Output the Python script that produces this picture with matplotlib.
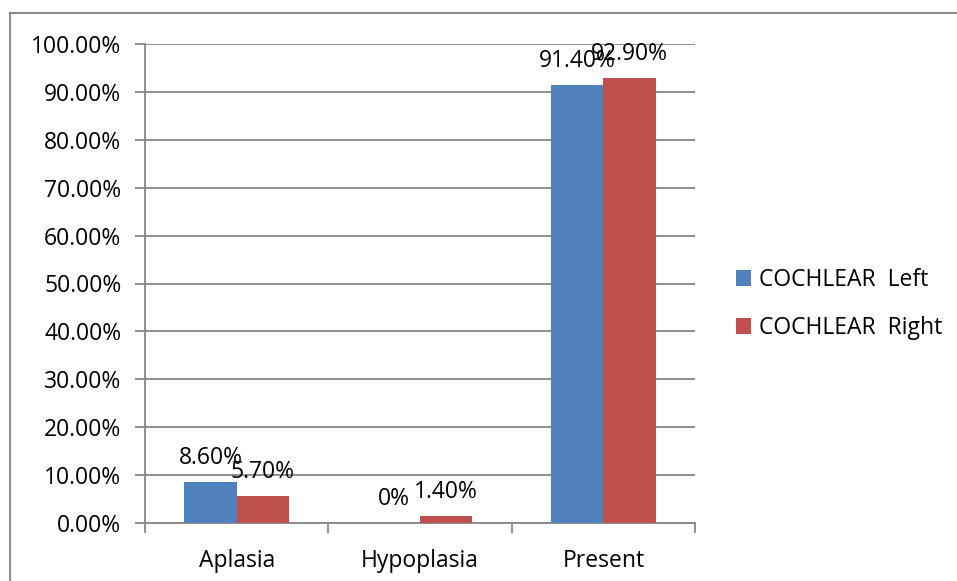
import matplotlib
matplotlib.use("Agg")
import matplotlib.pyplot as plt
from matplotlib.lines import Line2D
from matplotlib.patches import Patch
import numpy as np

categories = ["Aplasia", "Hypoplasia", "Present"]
left_values = [8.6, 0.0, 91.4]
right_values = [5.7, 1.4, 92.9]
left_labels = ["8.60%", "0%", "91.40%"]
right_labels = ["5.70%", "1.40%", "92.90%"]
series_names = ["COCHLEAR  Left", "COCHLEAR  Right"]
y_ticks = [0, 10, 20, 30, 40, 50, 60, 70, 80, 90, 100]

blue = "#4F81BD"
red = "#C0504D"
grid_col = "#868686"
font = "Open Sans"
fs = 16.5

W, H = 957, 581
fig = plt.figure(figsize=(W / 100, H / 100), dpi=100)
ax = fig.add_axes([145 / W, (H - 523) / H, 550 / W, 479 / H])

x = np.arange(len(categories))
bw = 0.285
ax.bar(x - bw / 2, left_values, bw, color=blue, zorder=3)
ax.bar(x + bw / 2, right_values, bw, color=red, zorder=3)

for xi, v, lab in zip(x - bw / 2, left_values, left_labels):
    ax.annotate(lab, (xi, v), xytext=(0, 13), textcoords="offset points",
                ha="center", va="baseline", fontsize=fs, family=font, zorder=4)
for xi, v, lab in zip(x + bw / 2, right_values, right_labels):
    ax.annotate(lab, (xi, v), xytext=(0, 13), textcoords="offset points",
                ha="center", va="baseline", fontsize=fs, family=font, zorder=4)

ax.set_xlim(-0.5, len(categories) - 0.5)
ax.set_ylim(0, 100)
ax.set_yticks(y_ticks)
ax.set_yticklabels([f"{t:.2f}%" for t in y_ticks], fontsize=fs, family=font)
ax.yaxis.grid(True, color=grid_col, linewidth=1.3, zorder=0)
ax.set_axisbelow(True)

# category labels centred, tick marks on category boundaries
ax.set_xticks(x)
ax.set_xticklabels(categories, fontsize=fs, family=font)
ax.tick_params(axis="x", length=0, pad=19)
ax.set_xticks(np.arange(-0.5, len(categories), 1.0), minor=True)
ax.tick_params(axis="x", which="minor", length=7, width=1.3, color=grid_col, direction="out")
ax.tick_params(axis="y", length=7, width=1.3, color=grid_col, direction="out", pad=10)

for s in ["top", "right"]:
    ax.spines[s].set_visible(False)
for s in ["left", "bottom"]:
    ax.spines[s].set_color(grid_col)
    ax.spines[s].set_linewidth(1.3)

handles = [Patch(facecolor=blue, edgecolor="none"), Patch(facecolor=red, edgecolor="none")]
fig.legend(handles, series_names, loc="center left", bbox_to_anchor=(736 / W, 1 - 304 / H),
           frameon=False, prop={"family": font, "size": fs},
           handlelength=0.65, handleheight=0.65, handletextpad=0.35, labelspacing=1.05,
           borderaxespad=0, borderpad=0)

# chart frame
fig.add_artist(Line2D([10 / W, 10 / W], [0, 1 - 13 / H], color="#8c8c8c", linewidth=1.5))
fig.add_artist(Line2D([10 / W, 1], [1 - 13 / H, 1 - 13 / H], color="#8c8c8c", linewidth=1.5))

fig.savefig("out.png", dpi=100)
